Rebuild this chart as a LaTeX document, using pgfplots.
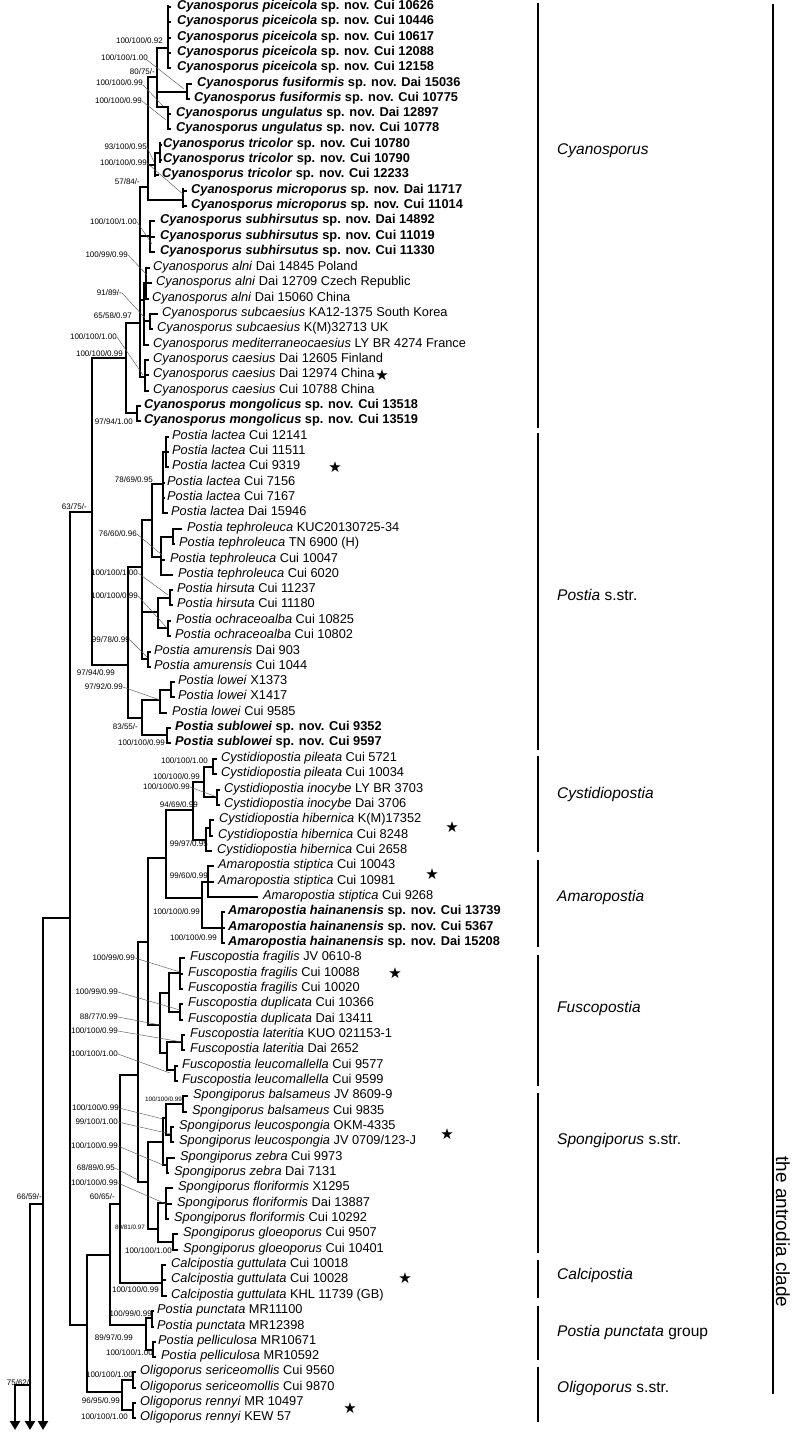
\documentclass[border=0pt]{standalone}
\usepackage{pgfplots}
\pgfplotsset{compat=1.18}
\usetikzlibrary{arrows.meta}
\usepackage{fontspec}
\setmainfont{Liberation Sans}
\newfontfamily\djv{DejaVu Sans}
\begin{document}
\begin{tikzpicture}
\tikzset{lf/.style={anchor=mid west,inner sep=0pt,font=\fontsize{12.8}{14}\selectfont},
bs/.style={anchor=mid east,inner sep=0pt,font=\fontsize{8}{9}\selectfont},
bss/.style={anchor=mid east,inner sep=0pt,font=\fontsize{6.3}{7}\selectfont},
cl/.style={anchor=mid west,inner sep=0pt,font=\fontsize{15.5}{17}\selectfont},
st/.style={inner sep=0pt,font=\djv\fontsize{15}{16}\selectfont},
tree/.style={black,line width=2.8pt,line cap=rect,mark=none},
lead/.style={black!65,line width=0.45pt,mark=none},
bar/.style={black,line width=2pt,mark=none}}
\newcommand\lf[4]{\node[lf] at (axis cs:#1,#2) {\textit{#3} #4};}
\newcommand\lb[4]{\node[lf] at (axis cs:#1,#2) {\bfseries\textit{#3} #4};}
\newcommand\bs[3]{\node[bs] at (axis cs:#1,#2) {#3};}
\begin{axis}[width=792pt,height=1432pt,scale only axis,xmin=0,xmax=792,ymin=0,ymax=1432,
y dir=reverse,hide axis,clip=false,unbounded coords=jump]
% verticals
\addplot[tree] coordinates {
(168,6)(168,68)(nan,nan)(187,84)(187,99)(nan,nan)(168,107)(168,129)(nan,nan)
(157,48)(157,107)(nan,nan)(160,143)(160,162)(nan,nan)(155,153)(155,176)(nan,nan)
(183,189)(183,207)(nan,nan)(148,77)(148,200)(nan,nan)(140,187)(140,377)(nan,nan)
(150,221)(150,252)(nan,nan)(146,268)(146,299)(nan,nan)(150,314)(150,329)(nan,nan)
(144,283)(144,345)(nan,nan)(145,360)(145,391)(nan,nan)(137,406)(137,421)(nan,nan)
(126,323)(126,413)(nan,nan)(92,358)(92,665)(nan,nan)
(166,437)(166,467)(nan,nan)(163,452)(163,513)(nan,nan)(173,529)(173,544)(nan,nan)
(161,537)(161,575)(nan,nan)(152,484)(152,557)(nan,nan)(170,590)(170,605)(nan,nan)
(168,621)(168,636)(nan,nan)(158,598)(158,628)(nan,nan)(142,520)(142,659)(nan,nan)
(148,652)(148,667)(nan,nan)(171,682)(171,697)(nan,nan)(160,690)(160,713)(nan,nan)
(167,728)(167,743)(nan,nan)(142,700)(142,735)(nan,nan)(128,567)(128,718)(nan,nan)
(213,759)(213,774)(nan,nan)(217,790)(217,805)(nan,nan)(204,767)(204,797)(nan,nan)
(210,820)(210,836)(nan,nan)(206,828)(206,851)(nan,nan)(193,782)(193,840)(nan,nan)
(208,866)(208,897)(nan,nan)(222,912)(222,943)(nan,nan)(202,882)(202,928)(nan,nan)
(166,810)(166,898)(nan,nan)(148,858)(148,1025)(nan,nan)
(180,958)(180,989)(nan,nan)(180,1004)(180,1020)(nan,nan)(169,973)(169,1012)(nan,nan)
(182,1035)(182,1050)(nan,nan)(175,1066)(175,1081)(nan,nan)(167,1042)(167,1070)(nan,nan)
(160,993)(160,1053)(nan,nan)
(183,1096)(183,1112)(nan,nan)(171,1127)(171,1142)(nan,nan)(166,1104)(166,1135)(nan,nan)
(167,1158)(167,1173)(nan,nan)(163,1118)(163,1165)(nan,nan)(166,1188)(166,1219)(nan,nan)
(173,1234)(173,1250)(nan,nan)(158,1203)(158,1242)(nan,nan)(148,1142)(148,1229)(nan,nan)
(138,942)(138,1182)(nan,nan)(162,1265)(162,1296)(nan,nan)(120,1075)(120,1283)(nan,nan)
(152,1311)(152,1327)(nan,nan)(153,1342)(153,1357)(nan,nan)(146,1318)(146,1350)(nan,nan)
(110,1204)(110,1325)(nan,nan)(133,1372)(133,1388)(nan,nan)(133,1403)(133,1418)(nan,nan)
(122,1380)(122,1410)(nan,nan)(87,1255)(87,1392)(nan,nan)(70,512)(70,1325)
};
% internal horizontals
\addplot[tree] coordinates {
(157,48)(168,48)(nan,nan)(157,92)(187,92)(nan,nan)(157,107)(168,107)(nan,nan)
(148,77)(157,77)(nan,nan)(148,165)(155,165)(nan,nan)(155,153)(160,153)(nan,nan)
(148,200)(183,200)(nan,nan)(140,187)(148,187)(nan,nan)(140,236)(150,236)(nan,nan)
(140,300)(144,300)(nan,nan)(144,283)(146,283)(nan,nan)(144,321)(150,321)(nan,nan)
(140,377)(145,377)(nan,nan)(126,323)(140,323)(nan,nan)(126,413)(137,413)(nan,nan)
(92,358)(126,358)(nan,nan)(70,512)(92,512)(nan,nan)(92,665)(128,665)(nan,nan)
(128,567)(142,567)(nan,nan)(128,718)(142,718)(nan,nan)(142,520)(152,520)(nan,nan)
(152,484)(163,484)(nan,nan)(163,452)(166,452)(nan,nan)(152,557)(161,557)(nan,nan)
(161,537)(173,537)(nan,nan)(142,612)(158,612)(nan,nan)(158,598)(170,598)(nan,nan)
(158,628)(168,628)(nan,nan)(142,659)(148,659)(nan,nan)(142,700)(160,700)(nan,nan)
(160,690)(171,690)(nan,nan)(142,735)(167,735)(nan,nan)
(204,767)(213,767)(nan,nan)(204,797)(217,797)(nan,nan)(193,782)(204,782)(nan,nan)
(206,828)(210,828)(nan,nan)(193,840)(206,840)(nan,nan)(166,810)(193,810)(nan,nan)
(202,882)(208,882)(nan,nan)(202,928)(222,928)(nan,nan)(166,898)(202,898)(nan,nan)
(148,858)(166,858)(nan,nan)(148,1025)(160,1025)(nan,nan)(138,942)(148,942)(nan,nan)
(169,973)(180,973)(nan,nan)(169,1012)(180,1012)(nan,nan)(160,993)(169,993)(nan,nan)
(167,1042)(182,1042)(nan,nan)(167,1070)(175,1070)(nan,nan)(160,1053)(167,1053)(nan,nan)
(166,1104)(183,1104)(nan,nan)(166,1135)(171,1135)(nan,nan)(163,1118)(166,1118)(nan,nan)
(163,1165)(167,1165)(nan,nan)(148,1142)(163,1142)(nan,nan)(158,1203)(166,1203)(nan,nan)
(158,1242)(173,1242)(nan,nan)(148,1229)(158,1229)(nan,nan)(138,1182)(148,1182)(nan,nan)
(120,1075)(138,1075)(nan,nan)(120,1283)(162,1283)(nan,nan)(110,1204)(120,1204)(nan,nan)
(146,1318)(152,1318)(nan,nan)(146,1350)(153,1350)(nan,nan)(110,1325)(146,1325)(nan,nan)
(87,1255)(110,1255)(nan,nan)(122,1380)(133,1380)(nan,nan)(122,1410)(133,1410)(nan,nan)
(87,1392)(122,1392)(nan,nan)(70,1325)(87,1325)(nan,nan)(43,918)(70,918)(nan,nan)
(30,1204)(43,1204)(nan,nan)(15,1385)(30,1385)
};
% leaf branches
\addplot[tree] coordinates {
(168,7)(170,7)(nan,nan)(168,22)(170,22)(nan,nan)(168,38)(170,38)(nan,nan)(168,53)(170,53)(nan,nan)
(168,68)(170,68)(nan,nan)(187,84)(191,84)(nan,nan)(187,99)(189,99)(nan,nan)(168,114)(170,114)(nan,nan)
(168,129)(170,129)(nan,nan)(160,145)(161,145)(nan,nan)(160,160)(161,160)(nan,nan)(155,175)(158,175)(nan,nan)
(183,191)(186,191)(nan,nan)(183,206)(186,206)(nan,nan)(150,221)(154,221)(nan,nan)(150,237)(154,237)(nan,nan)
(150,252)(154,252)(nan,nan)(146,268)(149,268)(nan,nan)(146,283)(151,283)(nan,nan)(146,299)(148,299)(nan,nan)
(150,314)(157,314)(nan,nan)(150,329)(152,329)(nan,nan)(144,345)(148,345)(nan,nan)(145,360)(148,360)(nan,nan)
(145,375)(148,375)(nan,nan)(145,391)(148,391)(nan,nan)(137,406)(140,406)(nan,nan)(137,421)(140,421)(nan,nan)
(166,437)(168,437)(nan,nan)(166,452)(168,452)(nan,nan)(166,467)(168,467)(nan,nan)(163,483)(164,483)(nan,nan)
(163,498)(164,498)(nan,nan)(163,513)(167,513)(nan,nan)(173,529)(181,529)(nan,nan)(173,544)(174,544)(nan,nan)
(161,560)(164,560)(nan,nan)(161,575)(172,575)(nan,nan)(170,590)(172,590)(nan,nan)(170,605)(172,605)(nan,nan)
(168,621)(170,621)(nan,nan)(168,636)(170,636)(nan,nan)(148,652)(150,652)(nan,nan)(148,667)(150,667)(nan,nan)
(171,682)(174,682)(nan,nan)(171,697)(174,697)(nan,nan)(160,713)(166,713)(nan,nan)(167,728)(170,728)(nan,nan)
(167,743)(170,743)(nan,nan)(213,759)(216,759)(nan,nan)(213,774)(216,774)(nan,nan)(217,790)(219,790)(nan,nan)
(217,805)(219,805)(nan,nan)(210,820)(213,820)(nan,nan)(210,836)(212,836)(nan,nan)(206,851)(211,851)(nan,nan)
(208,866)(213,866)(nan,nan)(208,882)(213,882)(nan,nan)(208,897)(257,897)(nan,nan)(222,912)(224,912)(nan,nan)
(222,928)(224,928)(nan,nan)(222,943)(224,943)(nan,nan)(180,958)(184,958)(nan,nan)(180,974)(182,974)(nan,nan)
(180,989)(182,989)(nan,nan)(180,1004)(182,1004)(nan,nan)(180,1020)(182,1020)(nan,nan)(182,1035)(184,1035)(nan,nan)
(182,1050)(184,1050)(nan,nan)(175,1066)(177,1066)(nan,nan)(175,1081)(177,1081)(nan,nan)(183,1096)(187,1096)(nan,nan)
(183,1112)(186,1112)(nan,nan)(171,1127)(173,1127)(nan,nan)(171,1142)(173,1142)(nan,nan)(167,1158)(174,1158)(nan,nan)
(167,1173)(168,1173)(nan,nan)(166,1188)(172,1188)(nan,nan)(166,1204)(171,1204)(nan,nan)(166,1219)(168,1219)(nan,nan)
(173,1234)(177,1234)(nan,nan)(173,1250)(177,1250)(nan,nan)(162,1265)(165,1265)(nan,nan)(162,1280)(165,1280)(nan,nan)
(162,1296)(166,1296)(nan,nan)(152,1311)(153,1311)(nan,nan)(152,1327)(153,1327)(nan,nan)(153,1342)(155,1342)(nan,nan)
(153,1357)(155,1357)(nan,nan)(133,1372)(135,1372)(nan,nan)(133,1388)(135,1388)(nan,nan)(133,1403)(135,1403)(nan,nan)
(133,1418)(135,1418)
};
% outgroup arrows
\addplot[tree,line cap=butt,-{Triangle[length=9pt,width=10pt]}] coordinates {(43,918)(43,1430)};
\addplot[tree,line cap=butt,-{Triangle[length=9pt,width=10pt]}] coordinates {(30,1204)(30,1430)};
\addplot[tree,line cap=butt,-{Triangle[length=9pt,width=10pt]}] coordinates {(15,1385)(15,1430)};
% leader lines
\addplot[lead] coordinates {
(147,60)(184,89)(nan,nan)(143,85)(163,106)(nan,nan)(142,101)(166,120)(nan,nan)
(147,147)(154,162)(nan,nan)(147,163)(184,195)(nan,nan)(137,222)(152,244)(nan,nan)
(128,255)(147,275)(nan,nan)(122,293)(145,318)(nan,nan)(117,337)(143,375)(nan,nan)
(137,534)(162,555)(nan,nan)(138,573)(168,595)(nan,nan)(138,596)(167,628)(nan,nan)
(130,640)(147,657)(nan,nan)(123,687)(160,700)(nan,nan)(190,787)(217,797)(nan,nan)
(135,958)(180,972)(nan,nan)(118,992)(180,1010)(nan,nan)(118,1017)(160,1025)(nan,nan)
(118,1031)(182,1042)(nan,nan)(118,1054)(170,1073)(nan,nan)(119,1108)(163,1119)(nan,nan)
(118,1122)(171,1134)(nan,nan)(118,1146)(163,1165)(nan,nan)(115,1168)(138,1180)(nan,nan)
(118,1183)(166,1204)
};
% clade bars
\addplot[bar] coordinates {
(538,3)(538,428)(nan,nan)(538,433)(538,750)(nan,nan)(538,756)(538,852)(nan,nan)
(538,860)(538,947)(nan,nan)(538,955)(538,1086)(nan,nan)(538,1093)(538,1253)(nan,nan)
(538,1260)(538,1298)(nan,nan)(538,1306)(538,1360)(nan,nan)(538,1367)(538,1422)(nan,nan)
(773,4)(773,1394)
};
% leaf labels
\lb{177}{7}{Cyanosporus piceicola}{sp. nov. Cui 10626}
\lb{177}{22}{Cyanosporus piceicola}{sp. nov. Cui 10446}
\lb{177}{38}{Cyanosporus piceicola}{sp. nov. Cui 10617}
\lb{177}{53}{Cyanosporus piceicola}{sp. nov. Cui 12088}
\lb{177}{68}{Cyanosporus piceicola}{sp. nov. Cui 12158}
\lb{197}{84}{Cyanosporus fusiformis}{sp. nov. Dai 15036}
\lb{194}{99}{Cyanosporus fusiformis}{sp. nov. Cui 10775}
\lb{176}{114}{Cyanosporus ungulatus}{sp. nov. Dai 12897}
\lb{176}{129}{Cyanosporus ungulatus}{sp. nov. Cui 10778}
\lb{163}{145}{Cyanosporus tricolor}{sp. nov. Cui 10780}
\lb{163}{160}{Cyanosporus tricolor}{sp. nov. Cui 10790}
\lb{162}{175}{Cyanosporus tricolor}{sp. nov. Cui 12233}
\lb{191}{191}{Cyanosporus microporus}{sp. nov. Dai 11717}
\lb{191}{206}{Cyanosporus microporus}{sp. nov. Cui 11014}
\lb{160}{221}{Cyanosporus subhirsutus}{sp. nov. Dai 14892}
\lb{160}{237}{Cyanosporus subhirsutus}{sp. nov. Cui 11019}
\lb{160}{252}{Cyanosporus subhirsutus}{sp. nov. Cui 11330}
\lf{153}{268}{Cyanosporus alni}{Dai 14845 Poland}
\lf{156}{283}{Cyanosporus alni}{Dai 12709 Czech Republic}
\lf{152}{299}{Cyanosporus alni}{Dai 15060 China}
\lf{162}{314}{Cyanosporus subcaesius}{KA12-1375 South Korea}
\lf{157}{329}{Cyanosporus subcaesius}{K(M)32713 UK}
\lf{153}{345}{Cyanosporus mediterraneocaesius}{LY BR 4274 France}
\lf{153}{360}{Cyanosporus caesius}{Dai 12605 Finland}
\lf{153}{375}{Cyanosporus caesius}{Dai 12974 China}
\lf{153}{391}{Cyanosporus caesius}{Cui 10788 China}
\lb{144}{406}{Cyanosporus mongolicus}{sp. nov. Cui 13518}
\lb{144}{421}{Cyanosporus mongolicus}{sp. nov. Cui 13519}
\lf{172}{437}{Postia lactea}{Cui 12141}
\lf{172}{452}{Postia lactea}{Cui 11511}
\lf{172}{467}{Postia lactea}{Cui 9319}
\lf{167}{483}{Postia lactea}{Cui 7156}
\lf{167}{498}{Postia lactea}{Cui 7167}
\lf{171}{513}{Postia lactea}{Dai 15946}
\lf{187}{529}{Postia tephroleuca}{KUC20130725-34}
\lf{179}{544}{Postia tephroleuca}{TN 6900 (H)}
\lf{170}{560}{Postia tephroleuca}{Cui 10047}
\lf{178}{575}{Postia tephroleuca}{Cui 6020}
\lf{177}{590}{Postia hirsuta}{Cui 11237}
\lf{177}{605}{Postia hirsuta}{Cui 11180}
\lf{176}{621}{Postia ochraceoalba}{Cui 10825}
\lf{175}{636}{Postia ochraceoalba}{Cui 10802}
\lf{154}{652}{Postia amurensis}{Dai 903}
\lf{154}{667}{Postia amurensis}{Cui 1044}
\lf{178}{682}{Postia lowei}{X1373}
\lf{178}{697}{Postia lowei}{X1417}
\lf{172}{713}{Postia lowei}{Cui 9585}
\lb{175}{728}{Postia sublowei}{sp. nov. Cui 9352}
\lb{175}{743}{Postia sublowei}{sp. nov. Cui 9597}
\lf{221}{759}{Cystidiopostia pileata}{Cui 5721}
\lf{221}{774}{Cystidiopostia pileata}{Cui 10034}
\lf{224}{790}{Cystidiopostia inocybe}{LY BR 3703}
\lf{224}{805}{Cystidiopostia inocybe}{Dai 3706}
\lf{219}{820}{Cystidiopostia hibernica}{K(M)17352}
\lf{218}{836}{Cystidiopostia hibernica}{Cui 8248}
\lf{217}{851}{Cystidiopostia hibernica}{Cui 2658}
\lf{218}{866}{Amaropostia stiptica}{Cui 10043}
\lf{218}{882}{Amaropostia stiptica}{Cui 10981}
\lf{263}{897}{Amaropostia stiptica}{Cui 9268}
\lb{228}{912}{Amaropostia hainanensis}{sp. nov. Cui 13739}
\lb{228}{928}{Amaropostia hainanensis}{sp. nov. Cui 5367}
\lb{228}{943}{Amaropostia hainanensis}{sp. nov. Dai 15208}
\lf{190}{958}{Fuscopostia fragilis}{JV 0610-8}
\lf{188}{974}{Fuscopostia fragilis}{Cui 10088}
\lf{188}{989}{Fuscopostia fragilis}{Cui 10020}
\lf{188}{1004}{Fuscopostia duplicata}{Cui 10366}
\lf{188}{1020}{Fuscopostia duplicata}{Dai 13411}
\lf{190}{1035}{Fuscopostia lateritia}{KUO 021153-1}
\lf{190}{1050}{Fuscopostia lateritia}{Dai 2652}
\lf{182}{1066}{Fuscopostia leucomallella}{Cui 9577}
\lf{182}{1081}{Fuscopostia leucomallella}{Cui 9599}
\lf{193}{1096}{Spongiporus balsameus}{JV 8609-9}
\lf{192}{1112}{Spongiporus balsameus}{Cui 9835}
\lf{179}{1127}{Spongiporus leucospongia}{OKM-4335}
\lf{179}{1142}{Spongiporus leucospongia}{JV 0709/123-J}
\lf{180}{1158}{Spongiporus zebra}{Cui 9973}
\lf{174}{1173}{Spongiporus zebra}{Dai 7131}
\lf{178}{1188}{Spongiporus floriformis}{X1295}
\lf{177}{1204}{Spongiporus floriformis}{Dai 13887}
\lf{174}{1219}{Spongiporus floriformis}{Cui 10292}
\lf{183}{1234}{Spongiporus gloeoporus}{Cui 9507}
\lf{183}{1250}{Spongiporus gloeoporus}{Cui 10401}
\lf{171}{1265}{Calcipostia guttulata}{Cui 10018}
\lf{171}{1280}{Calcipostia guttulata}{Cui 10028}
\lf{171}{1296}{Calcipostia guttulata}{KHL 11739 (GB)}
\lf{157}{1311}{Postia punctata}{MR11100}
\lf{157}{1327}{Postia punctata}{MR12398}
\lf{158}{1342}{Postia pelliculosa}{MR10671}
\lf{161}{1357}{Postia pelliculosa}{MR10592}
\lf{140}{1372}{Oligoporus sericeomollis}{Cui 9560}
\lf{140}{1388}{Oligoporus sericeomollis}{Cui 9870}
\lf{140}{1403}{Oligoporus rennyi}{MR 10497}
\lf{140}{1418}{Oligoporus rennyi}{KEW 57}
% support values
\bs{163}{41}{100/100/0.92}
\bs{148}{58}{100/100/1.00}
\bs{155}{72}{80/75/-}
\bs{143}{83}{100/100/0.99}
\bs{142}{101}{100/100/0.99}
\bs{147}{147}{93/100/0.95}
\bs{147}{163}{100/100/0.99}
\bs{140}{182}{57/84/-}
\bs{137}{222}{100/100/1.00}
\bs{128}{255}{100/99/0.99}
\bs{122}{293}{91/89/-}
\bs{132}{316}{65/58/0.97}
\bs{117}{337}{100/100/1.00}
\bs{123}{354}{100/100/0.99}
\bs{133}{422}{97/94/1.00}
\bs{153}{480}{78/69/0.95}
\bs{87}{507}{63/75/-}
\bs{137}{534}{76/60/0.96}
\bs{138}{573}{100/100/1.00}
\bs{138}{596}{100/100/0.99}
\bs{130}{640}{99/78/0.99}
\bs{115}{673}{97/94/0.99}
\bs{123}{687}{97/92/0.99}
\bs{138}{727}{83/55/-}
\bs{165}{743}{100/100/0.99}
\bs{208}{761}{100/100/1.00}
\bs{200}{777}{100/100/0.99}
\bs{190}{787}{100/100/0.99}
\bs{198}{805}{94/69/0.99}
\bs{208}{844}{99/97/0.95}
\bs{208}{876}{99/60/0.99}
\bs{200}{912}{100/100/0.99}
\bs{217}{938}{100/100/0.99}
\bs{135}{958}{100/99/0.99}
\bs{118}{992}{100/99/0.99}
\bs{118}{1017}{88/77/0.99}
\bs{118}{1031}{100/100/0.99}
\bs{118}{1054}{100/100/1.00}
\node[bss] at (axis cs:182,1099) {100/100/0.99};
\bs{119}{1108}{100/100/0.99}
\bs{118}{1122}{99/100/1.00}
\bs{118}{1146}{100/100/0.99}
\bs{115}{1168}{68/89/0.95}
\bs{118}{1183}{100/100/0.99}
\bs{42}{1197}{66/59/-}
\bs{115}{1197}{60/65/-}
\node[bss] at (axis cs:145,1227) {80/81/0.97};
\bs{172}{1251}{100/100/1.00}
\bs{159}{1290}{100/100/0.99}
\bs{152}{1314}{100/99/0.99}
\bs{133}{1338}{89/97/0.99}
\bs{153}{1353}{100/100/1.00}
\bs{133}{1375}{100/100/1.00}
\bs{120}{1401}{96/95/0.99}
\bs{128}{1417}{100/100/1.00}
\bs{32}{1383}{75/62/-}
% stars
\node[st] at (axis cs:382,375) {★};
\node[st] at (axis cs:335,467) {★};
\node[st] at (axis cs:452,827) {★};
\node[st] at (axis cs:432,874) {★};
\node[st] at (axis cs:395,973) {★};
\node[st] at (axis cs:447,1134) {★};
\node[st] at (axis cs:405,1278) {★};
\node[st] at (axis cs:350,1408) {★};
% clade names
\node[cl] at (axis cs:557,152) {\textit{Cyanosporus}};
\node[cl] at (axis cs:557,598) {\textit{Postia} s.str.};
\node[cl] at (axis cs:557,796) {\textit{Cystidiopostia}};
\node[cl] at (axis cs:557,899) {\textit{Amaropostia}};
\node[cl] at (axis cs:557,1010) {\textit{Fuscopostia}};
\node[cl] at (axis cs:557,1142) {\textit{Spongiporus} s.str.};
\node[cl] at (axis cs:557,1277) {\textit{Calcipostia}};
\node[cl] at (axis cs:557,1334) {\textit{Postia punctata} group};
\node[cl] at (axis cs:557,1390) {\textit{Oligoporus} s.str.};
\node[rotate=-90,inner sep=0pt,font=\fontsize{19}{20}\selectfont] at (axis cs:783,1232) {the antrodia clade};
\end{axis}
\pgfresetboundingbox
\path[use as bounding box] (0,0) rectangle (792pt,1432pt);
\end{tikzpicture}
\end{document}
